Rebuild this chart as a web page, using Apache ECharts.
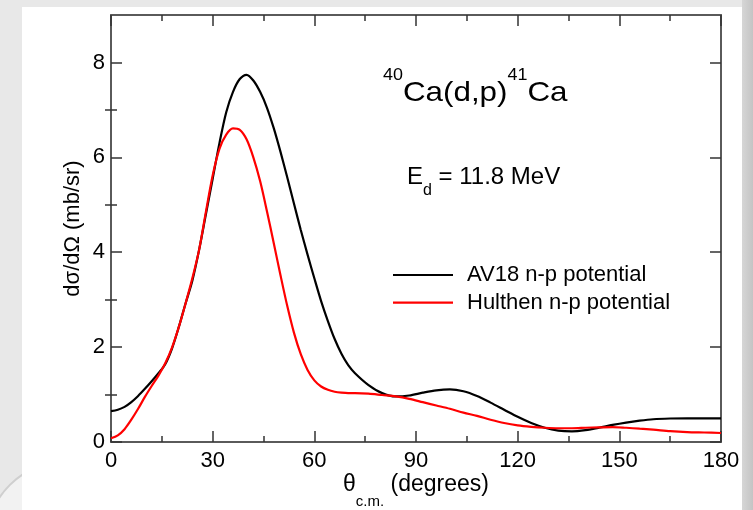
<!DOCTYPE html>
<html>
<head>
<meta charset="utf-8">
<script src="https://cdn.jsdelivr.net/npm/echarts@6/dist/echarts.min.js"></script>
<style>html,body{margin:0;padding:0;background:#fff}#c{width:753px;height:510px}</style>
</head>
<body>
<div id="c"></div>
<script>
// ---- data ----
const angles = [0,2,4,6,8,10,12,14,16,18,20,22,24,26,28,30,32,34,36,38,40,42,44,46,48,50,52,54,56,58,60,62,64,66,68,70,72,76,80,84,88,92,96,100,104,108,112,116,120,124,128,132,136,140,144,148,152,156,160,165,170,175,180];
const av18 = [0.65,0.68,0.74,0.84,0.97,1.12,1.28,1.45,1.64,1.97,2.42,2.92,3.40,4.05,4.80,5.55,6.30,6.95,7.38,7.65,7.74,7.62,7.38,7.05,6.62,6.12,5.58,5.02,4.47,3.95,3.45,2.97,2.55,2.17,1.86,1.62,1.45,1.20,1.03,0.96,0.98,1.04,1.09,1.11,1.07,0.97,0.83,0.68,0.53,0.40,0.30,0.24,0.225,0.25,0.30,0.36,0.41,0.45,0.48,0.495,0.50,0.50,0.50];
const hulthen = [0.08,0.14,0.27,0.47,0.70,0.95,1.18,1.40,1.66,1.99,2.42,2.92,3.45,4.05,4.85,5.62,6.18,6.48,6.61,6.58,6.38,6.00,5.50,4.87,4.20,3.52,2.87,2.30,1.85,1.52,1.30,1.17,1.10,1.06,1.04,1.03,1.03,1.02,0.99,0.96,0.91,0.84,0.77,0.70,0.62,0.55,0.47,0.40,0.35,0.32,0.30,0.29,0.29,0.30,0.31,0.315,0.30,0.28,0.26,0.23,0.21,0.20,0.19];
const seriesNames = ['AV18 n-p potential', 'Hulthen n-p potential'];
const yMajor = [0,2,4,6,8];
const yMinor = [1,3,5,7];

const FONT = "'Liberation Sans', Arial, Helvetica, sans-serif";
const pair = (xs, ys) => xs.map((x, i) => [x, ys[i]]);

const chart = echarts.init(document.getElementById('c'), null, {renderer: 'canvas'});
const axisLine = {show: true, onZero: false, lineStyle: {color: '#5a5a5a', width: 2}};
const tickStyle = {color: '#333', width: 1.5};
function yAx(pos, ticks, len, line, labels, extra) {
  return Object.assign({
    type: 'value', position: pos, min: 0, max: 9,
    axisLine: line ? axisLine : {show: false},
    axisTick: {show: true, inside: true, length: len, customValues: ticks, lineStyle: tickStyle},
    axisLabel: labels ? {show: true, customValues: yMajor, margin: 6, fontSize: 22, color: '#000', fontFamily: FONT} : {show: false},
    splitLine: {show: false}
  }, extra || {});
}
function xAx(pos, labels, extra) {
  return Object.assign({
    type: 'value', position: pos, min: 0, max: 180, interval: 30,
    axisLine: axisLine,
    axisTick: {show: true, inside: true, length: 11, lineStyle: tickStyle},
    minorTick: {show: true, splitNumber: 2, length: 6, lineStyle: tickStyle},
    axisLabel: labels ? {show: true, margin: 8, fontSize: 22, color: '#000', fontFamily: FONT} : {show: false},
    splitLine: {show: false}
  }, extra || {});
}

chart.setOption({
  animation: false,
  backgroundColor: '#e8e8e8',
  graphic: [
    {type: 'rect', z: -10, shape: {x: 742, y: 0, width: 11, height: 510}, style: {fill: new echarts.graphic.LinearGradient(0,0,1,0,[{offset:0,color:'#d6d6d6'},{offset:1,color:'#c4c4c4'}])}},
    {type: 'circle', z: -9, shape: {cx: 70, cy: 545, r: 85}, style: {fill: '#f2f2f2', stroke: '#cfcfcf', lineWidth: 2}},
    {type: 'rect', z: -8, shape: {x: 22, y: 7, width: 720, height: 503}, style: {fill: '#ffffff'}},
    {type: 'text', z: 10, x: 383, y: 93, scaleX: 1.12, style: {
      text: '{sup|40}{m|Ca(d,p)}{sup|41}{m|Ca}', textVerticalAlign: 'middle', textAlign: 'left',
      rich: {m: {fontSize: 28, lineHeight: 30, fontFamily: FONT, fill: '#000'},
             sup: {fontSize: 16, lineHeight: 16, padding: [0,0,34,0], fontFamily: FONT, fill: '#000'}}}},
    {type: 'text', z: 10, x: 407, y: 177, style: {
      text: '{m|E}{sub|d}{m| = 11.8 MeV}', textVerticalAlign: 'middle', textAlign: 'left',
      rich: {m: {fontSize: 24, lineHeight: 26, fontFamily: FONT, fill: '#000'},
             sub: {fontSize: 16, lineHeight: 16, padding: [28,0,0,0], fontFamily: FONT, fill: '#000'}}}}
  ],
  grid: {left: 111, right: 32, top: 15, bottom: 68, outerBoundsMode: 'none', containLabel: false},
  legend: {
    orient: 'vertical', left: 393, top: 264, padding: 0, itemWidth: 60, itemHeight: 2.2, itemGap: 5.7,
    icon: 'rect',
    data: seriesNames,
    textStyle: {fontSize: 22, lineHeight: 22, color: '#000', fontFamily: FONT, padding: [0,0,0,9]}
  },
  xAxis: [
    xAx('bottom', true, {
      name: '{m|θ}{sub|c.m.}{m| (degrees)}', nameLocation: 'middle', nameGap: 30, nameMoveOverlap: false,
      nameTextStyle: {rich: {m: {fontSize: 23, lineHeight: 26, fontFamily: FONT, color: '#000'},
                             sub: {fontSize: 15, lineHeight: 15, padding: [34,0,0,0], fontFamily: FONT, color: '#000'}}}
    }),
    xAx('top', false)
  ],
  yAxis: [
    yAx('left', yMajor, 11, true, true, {
      name: 'dσ/dΩ (mb/sr)', nameLocation: 'middle', nameGap: 27, nameRotate: 90, nameMoveOverlap: false,
      nameTextStyle: {fontSize: 22, color: '#000', fontFamily: FONT}
    }),
    yAx('left', yMinor, 6, false, false),
    yAx('right', yMajor, 11, true, false),
    yAx('right', yMinor, 6, false, false)
  ],
  series: [
    {name: seriesNames[0], type: 'line', xAxisIndex: 0, yAxisIndex: 0, data: pair(angles, av18),
     symbol: 'none', smooth: 0.3, lineStyle: {color: '#000', width: 2.2}, itemStyle: {color: '#000'}, z: 3},
    {name: seriesNames[1], type: 'line', xAxisIndex: 0, yAxisIndex: 0, data: pair(angles, hulthen),
     symbol: 'none', smooth: 0.3, lineStyle: {color: '#ff0000', width: 2.2}, itemStyle: {color: '#ff0000'}, z: 4}
  ]
});
</script>
</body>
</html>
